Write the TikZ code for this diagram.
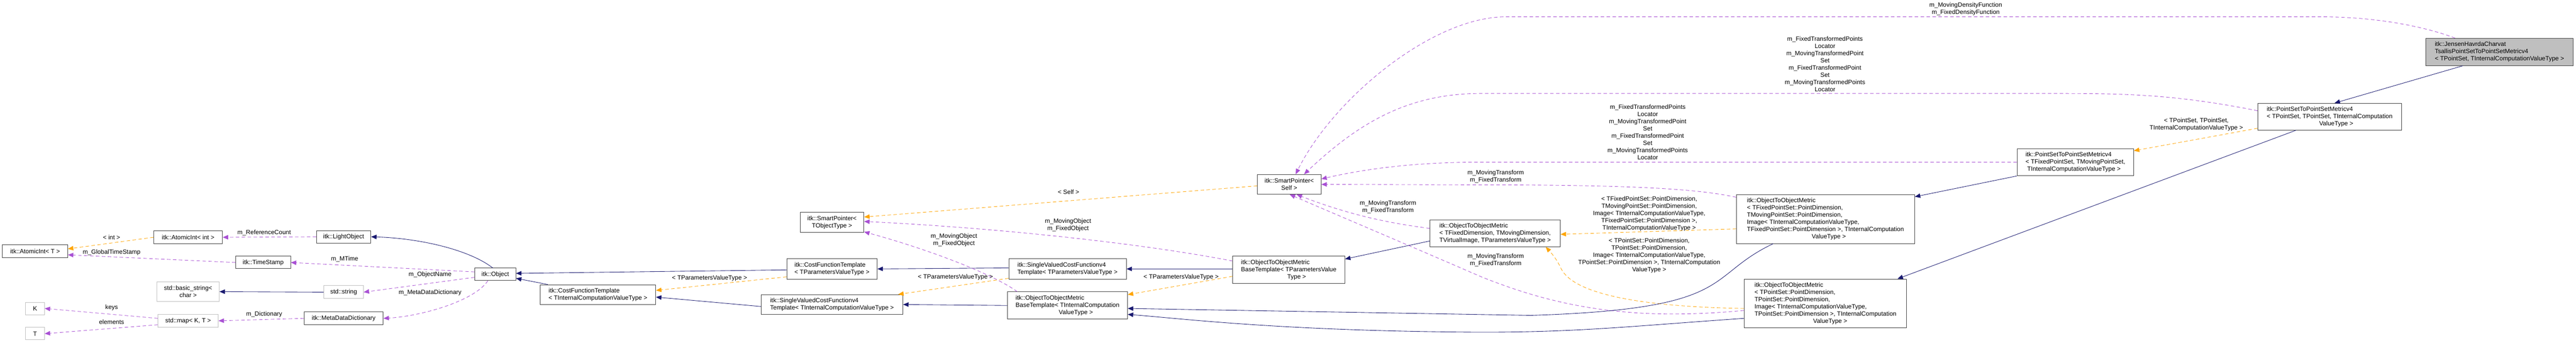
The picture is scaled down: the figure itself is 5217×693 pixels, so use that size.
\documentclass[tikz,border=0pt]{standalone}
\usepackage{fontspec}
\setmainfont{Liberation Sans}
\usetikzlibrary{arrows.meta,calc}
\definecolor{navyc}{HTML}{191970}
\definecolor{purp}{HTML}{9A32CD}
\definecolor{oran}{HTML}{FFA500}
\newcommand{\lf}{\fontsize{12.5}{14.6}\selectfont}
\tikzset{
 box/.style={draw=black!75, line width=1pt, fill=white, inner sep=2pt, align=left, font=\lf},
 gbox/.style={box, draw=black!25},
 lbl/.style={font=\lf, align=center, inner sep=0pt},
 inh/.style={draw=navyc, line width=0.9pt, -{Triangle[length=11pt,width=9pt]}},
 use/.style={draw=purp!85, line width=0.9pt, dash pattern=on 7pt off 5pt, -{Triangle[length=11pt,width=9pt]}},
 tmpl/.style={draw=oran, line width=0.9pt, dash pattern=on 7pt off 5pt, -{Triangle[length=11pt,width=9pt]}},
}
\begin{document}
\begin{tikzpicture}[x=1pt,y=-1pt]
\useasboundingbox[fill=white] (0,0) rectangle (5217,693);
% nodes
\node[box,minimum width=132,minimum height=26] (atomT) at (71,508) {itk::AtomicInt< T >};
\node[box,minimum width=139,minimum height=26] (atomInt) at (381,480) {itk::AtomicInt< int >};
\node[box,minimum width=111,minimum height=25] (timeStamp) at (533,531) {itk::TimeStamp};
\node[gbox,minimum width=126,minimum height=40,align=center] (bstring) at (381,590) {std::basic\_string<\\char >};
\node[gbox,minimum width=38,minimum height=25] (Kn) at (71,624) {K};
\node[gbox,minimum width=38,minimum height=25] (Tn) at (71,675) {T};
\node[gbox,minimum width=122,minimum height=26] (map) at (381,649) {std::map< K, T >};
\node[box,minimum width=110,minimum height=25] (light) at (696,479) {itk::LightObject};
\node[box,minimum width=83,minimum height=25] (object) at (1003,555) {itk::Object};
\node[gbox,minimum width=80,minimum height=26] (sstring) at (696,591) {std::string};
\node[box,minimum width=160,minimum height=26] (meta) at (696,644) {itk::MetaDataDictionary};
\node[box,minimum width=234,minimum height=40] (costI) at (1211,596) {itk::CostFunctionTemplate\\< TInternalComputationValueType >};
\node[box,minimum width=129,minimum height=41,align=center] (sptrT) at (1685,450) {itk::SmartPointer<\\TObjectType >};
\node[box,minimum width=183,minimum height=41] (costP) at (1685,544) {itk::CostFunctionTemplate\\< TParametersValueType >};
\node[box,minimum width=287,minimum height=40] (svcfI) at (1685,616) {itk::SingleValuedCostFunctionv4\\Template< TInternalComputationValueType >};
\node[box,minimum width=238,minimum height=41] (svcfP) at (2162,544) {itk::SingleValuedCostFunctionv4\\Template< TParametersValueType >};
\node[box,minimum width=243,minimum height=55] (o2oBI) at (2162,618) {itk::ObjectToObjectMetric\\BaseTemplate< TInternalComputation\\\hspace*{7em}ValueType >};
\node[box,minimum width=227,minimum height=55] (o2oBP) at (2610,546) {itk::ObjectToObjectMetric\\BaseTemplate< TParametersValue\\\hspace*{7.5em}Type >};
\node[box,minimum width=129,minimum height=40,align=center] (sptrS) at (2611,373) {itk::SmartPointer<\\Self >};
\node[box,minimum width=264,minimum height=54] (o2oTD) at (3028,472) {itk::ObjectToObjectMetric\\< TFixedDimension, TMovingDimension,\\ TVirtualImage, TParametersValueType >};
\node[box,minimum width=361,minimum height=99] (o2oFPS) at (3697,443) {itk::ObjectToObjectMetric\\< TFixedPointSet::PointDimension,\\ TMovingPointSet::PointDimension,\\ Image< TInternalComputationValueType,\\ TFixedPointSet::PointDimension >, TInternalComputation\\\hspace*{10.5em}ValueType >};
\node[box,minimum width=329,minimum height=99] (o2oPS) at (3697,614) {itk::ObjectToObjectMetric\\< TPointSet::PointDimension,\\ TPointSet::PointDimension,\\ Image< TInternalComputationValueType,\\ TPointSet::PointDimension >, TInternalComputation\\\hspace*{9.5em}ValueType >};
\node[box,minimum width=236,minimum height=55] (psFix) at (4203,328) {itk::PointSetToPointSetMetricv4\\< TFixedPointSet, TMovingPointSet,\\ \ TInternalComputationValueType >};
\node[box,minimum width=291,minimum height=54] (psPS) at (4718,236) {itk::PointSetToPointSetMetricv4\\< TPointSet, TPointSet, TInternalComputation\\\hspace*{8.5em}ValueType >};
\node[box,minimum width=299,minimum height=55,fill=black!25] (main) at (5062,105) {itk::JensenHavrdaCharvat\\TsallisPointSetToPointSetMetricv4\\< TPointSet, TInternalComputationValueType >};
% labels
\node[lbl] (l1) at (226,480) {< int >};
\node[lbl] (l2) at (226,511) {m\_GlobalTimeStamp};
\node[lbl] (l3) at (535,471) {m\_ReferenceCount};
\node[lbl] (l4) at (226,622) {keys};
\node[lbl] (l5) at (226,651) {elements};
\node[lbl] (l6) at (535,636) {m\_Dictionary};
\node[lbl] (l7) at (698,524) {m\_MTime};
\node[lbl] (l8) at (871,556) {m\_ObjectName};
\node[lbl] (l9) at (871,592) {m\_MetaDataDictionary};
\node[lbl] (l10) at (1437,563) {< TParametersValueType >};
\node[lbl] (l11) at (1935,561) {< TParametersValueType >};
\node[lbl] (l12) at (2392,561) {< TParametersValueType >};
\node[lbl] (l13) at (2164,388) {< Self >};
\node[lbl] (l14) at (2163,455) {m\_MovingObject\\m\_FixedObject};
\node[lbl] (l15) at (1932,486) {m\_MovingObject\\m\_FixedObject};
\node[lbl] (l16) at (2811,419) {m\_MovingTransform\\m\_FixedTransform};
\node[lbl] (l17) at (3029,357) {m\_MovingTransform\\m\_FixedTransform};
\node[lbl] (l18) at (3029,526) {m\_MovingTransform\\m\_FixedTransform};
\node[lbl] (l19) at (3337,267) {m\_FixedTransformedPoints\\Locator\\m\_MovingTransformedPoint\\Set\\m\_FixedTransformedPoint\\Set\\m\_MovingTransformedPoints\\Locator};
\node[lbl] (l20) at (3696,130) {m\_FixedTransformedPoints\\Locator\\m\_MovingTransformedPoint\\Set\\m\_FixedTransformedPoint\\Set\\m\_MovingTransformedPoints\\Locator};
\node[lbl] (l21) at (3981,18) {m\_MovingDensityFunction\\m\_FixedDensityFunction};
\node[lbl] (l22) at (3340,432) {< TFixedPointSet::PointDimension,\\TMovingPointSet::PointDimension,\\Image< TInternalComputationValueType,\\TFixedPointSet::PointDimension >,\\TInternalComputationValueType >};
\node[lbl] (l23) at (3340,517) {< TPointSet::PointDimension,\\TPointSet::PointDimension,\\Image< TInternalComputationValueType,\\TPointSet::PointDimension >, TInternalComputation\\ValueType >};
\node[lbl] (l24) at (4448,252) {< TPointSet, TPointSet,\\TInternalComputationValueType >};
% edges left part
\draw[tmpl] (atomInt.west) -- ($(atomT.north east)+(0,9)$);
\draw[use] (timeStamp.west) -- ($(atomT.south east)+(0,-6)$);
\draw[use] (light.west) -- (atomInt.east);
\draw[inh] ($(object.north)+(-5,0)$) .. controls (950,505) and (850,482) .. (light.east);
\draw[use] ($(object.west)+(0,-5)$) -- (timeStamp.east);
\draw[use] ($(object.west)+(0,6)$) -- (sstring.east);
\draw[use] ($(object.south)+(-15,0)$) .. controls (960,610) and (850,640) .. (meta.east);
\draw[inh] (sstring.west) -- (bstring.east);
\draw[use] (meta.west) -- (map.east);
\draw[use] ($(map.west)+(0,-5)$) -- (Kn.east);
\draw[use] ($(map.west)+(0,8)$) -- (Tn.east);
\draw[inh] ($(costI.north west)+(16,0)$) -- ($(object.east)+(0,8)$);
\draw[inh] ($(costP.west)+(0,2)$) -- ($(object.east)+(0,-2)$);
\draw[tmpl] ($(costP.south west)+(0,-5)$) -- ($(costI.north east)+(0,12)$);
\draw[inh] ($(svcfI.west)+(0,4)$) -- ($(costI.east)+(0,5)$);
\draw[inh] ($(svcfP.west)+(0,-2)$) -- (costP.east);
\draw[tmpl] ($(svcfP.south west)+(0,-2)$) -- ($(svcfI.north east)+(-10,0)$);
\draw[inh] (o2oBI.west) -- ($(svcfI.east)+(0,0)$);
\draw[inh] ($(o2oBP.west)+(0,-2)$) -- ($(svcfP.east)+(0,0)$);
\draw[tmpl] ($(o2oBP.south west)+(0,-15)$) -- ($(o2oBI.north east)+(0,6)$);
\draw[use] ($(o2oBI.north west)+(20,0)$) .. controls (2020,560) and (1900,510) .. ($(sptrT.south east)+(0,-2)$);
\draw[use] ($(o2oBP.north west)+(0,10)$) .. controls (2300,490) and (2000,460) .. ($(sptrT.east)+(0,-2)$);
\draw[tmpl] ($(sptrS.west)+(0,3)$) -- ($(sptrT.north east)+(0,10)$);
% smart pointer self
\draw[inh] ($(o2oTD.south west)+(0,-12)$) -- ($(o2oBP.north east)+(0,6)$);
\draw[use] ($(o2oTD.west)+(0,-10)$) .. controls (2800,450) and (2720,430) .. ($(sptrS.south east)+(-50,0)$);
\draw[use] ($(o2oPS.west)+(0,14)$) .. controls (3300,650) and (3150,620) .. (3000,560) .. controls (2850,495) and (2720,440) .. ($(sptrS.south east)+(-64,0)$);
\draw[use] ($(o2oFPS.north west)+(0,6)$) .. controls (3450,385) and (3350,374) .. (3000,374) -- ($(sptrS.east)+(0,0)$);
\draw[use] (psFix.west) -- (3000,328) .. controls (2850,328) and (2750,345) .. ($(sptrS.east)+(0,-11)$);
\draw[use] ($(psPS.west)+(0,-12)$) .. controls (4400,190) and (4300,189) .. (4150,189) -- (3000,189) .. controls (2850,189) and (2750,250) .. ($(sptrS.north)+(30,0)$);
\draw[use] ($(main.north west)+(60,0)$) .. controls (4900,50) and (4800,34) .. (4700,34) -- (3050,34) .. controls (2900,34) and (2700,200) .. ($(sptrS.north)+(13,0)$);
% right part
\draw[tmpl] ($(o2oFPS.west)+(0,20)$) -- ($(o2oTD.east)+(0,2)$);
\draw[tmpl] ($(o2oPS.west)+(0,10)$) .. controls (3300,620) and (3180,590) .. (3160,540) .. controls (3150,520) and (3140,510) .. ($(o2oTD.south east)+(-30,0)$);
\draw[inh] ($(o2oFPS.south west)+(75,0)$) .. controls (3450,560) and (3520,625) .. (3100,638) -- ($(o2oBI.east)+(0,6)$);
\draw[inh] ($(o2oPS.west)+(0,30)$) .. controls (3300,660) and (3200,672) .. (3000,672) .. controls (2600,670) and (2400,645) .. ($(o2oBI.east)+(0,18)$);
\draw[inh] (psFix.south west) -- ($(o2oFPS.north east)+(0,5)$);
\draw[inh] ($(psPS.south west)+(78,0)$) -- ($(o2oPS.north east)+(-19,0)$);
\draw[tmpl] ($(psPS.south west)+(0,-4)$) -- ($(psFix.north east)+(0,5)$);
\draw[inh] ($(main.south west)+(76,0)$) -- ($(psPS.north)+(10,0)$);
\end{tikzpicture}
\end{document}
